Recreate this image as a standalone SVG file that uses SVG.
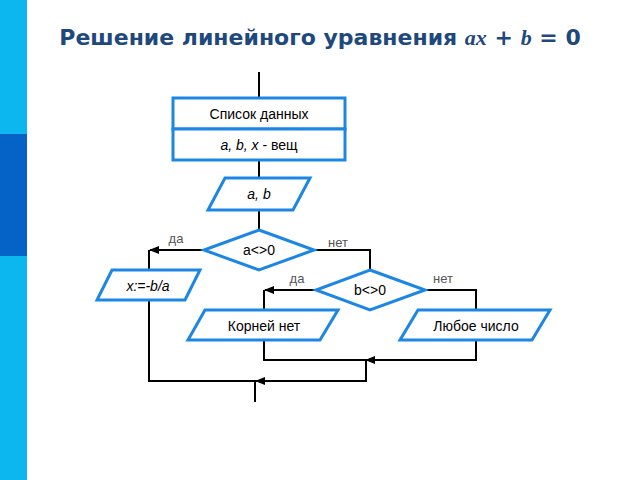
<svg xmlns="http://www.w3.org/2000/svg" width="640" height="480" viewBox="0 0 640 480">
<defs>
<marker id="ar" viewBox="0 0 10 10" refX="9" refY="5" markerWidth="5" markerHeight="5" orient="auto"><path d="M0,1 L10,5 L0,9 z" fill="#000"/></marker>
<style>
.s{fill:#fff;stroke:#1c86e4;stroke-width:3}
.l{fill:none;stroke:#000;stroke-width:2}
.t{font-family:"Liberation Sans",Arial,sans-serif;font-size:14px;text-anchor:middle;fill:#000}
.g{font-family:"Liberation Sans",Arial,sans-serif;font-size:13px;text-anchor:middle;fill:#555}
</style>
</defs>
<rect width="640" height="480" fill="#fff"/>
<rect x="0" y="0" width="27" height="480" fill="#0bb7ee"/>
<rect x="0" y="134" width="27" height="122" fill="#0563c8"/>
<text x="320" y="45" font-family="'DejaVu Sans',sans-serif" font-weight="bold" font-size="22" fill="#1f497d" text-anchor="middle">Решение линейного уравнения <tspan font-family="'Liberation Serif',serif" font-style="italic">ax</tspan> + <tspan font-family="'Liberation Serif',serif" font-style="italic">b</tspan> = 0</text>
<g id="connectors">
<path class="l" d="M259,72 V98 M259,160 V178 M259,210 V230"/>
<path class="l" d="M204,250 H150" marker-end="url(#ar)"/>
<path class="l" d="M149,250 V270 M149,300 V381 H366 V360 M366,360 H476 V340 M264,340 V360 H366"/>
<path class="l" d="M300,381 H256" marker-end="url(#ar)"/>
<path class="l" d="M420,360 H366" marker-end="url(#ar)"/>
<path class="l" d="M255,381 V402"/>
<path class="l" d="M314,250 H370 V270"/>
<path class="l" d="M316,290 H265" marker-end="url(#ar)"/>
<path class="l" d="M264,290 V310"/>
<path class="l" d="M425,290 H476 V310"/>
</g>
<g id="n_data"><rect class="s" x="173" y="98" width="172" height="31"/><rect class="s" x="173" y="129" width="172" height="31"/>
<text class="t" x="259" y="119">Список данных</text><text class="t" x="259" y="150"><tspan font-style="italic">a, b, x</tspan> - вещ</text></g>
<g id="n_input"><polygon class="s" points="225,178 310,178 293,210 208,210"/><text class="t" x="259" y="199"><tspan font-style="italic">a, b</tspan></text></g>
<g id="n_d1"><polygon class="s" points="259,230 314,250 259,270 204,250"/><text class="t" x="259" y="255">a&lt;&gt;0</text></g>
<g id="n_x"><polygon class="s" points="112,270 200,270 185,300 97,300"/><text class="t" x="148" y="291" font-style="italic">x:=-b/a</text></g>
<g id="n_d2"><polygon class="s" points="370,270 425,290 370,310 316,290"/><text class="t" x="370" y="295">b&lt;&gt;0</text></g>
<g id="n_no"><polygon class="s" points="205,310 338,310 320,340 188,340"/><text class="t" x="264" y="331">Корней нет</text></g>
<g id="n_any"><polygon class="s" points="418,310 550,310 532,340 400,340"/><text class="t" x="476" y="331">Любое число</text></g>
<text class="g" x="176" y="243">да</text>
<text class="g" x="338" y="247">нет</text>
<text class="g" x="297" y="283">да</text>
<text class="g" x="443" y="283">нет</text>
</svg>
